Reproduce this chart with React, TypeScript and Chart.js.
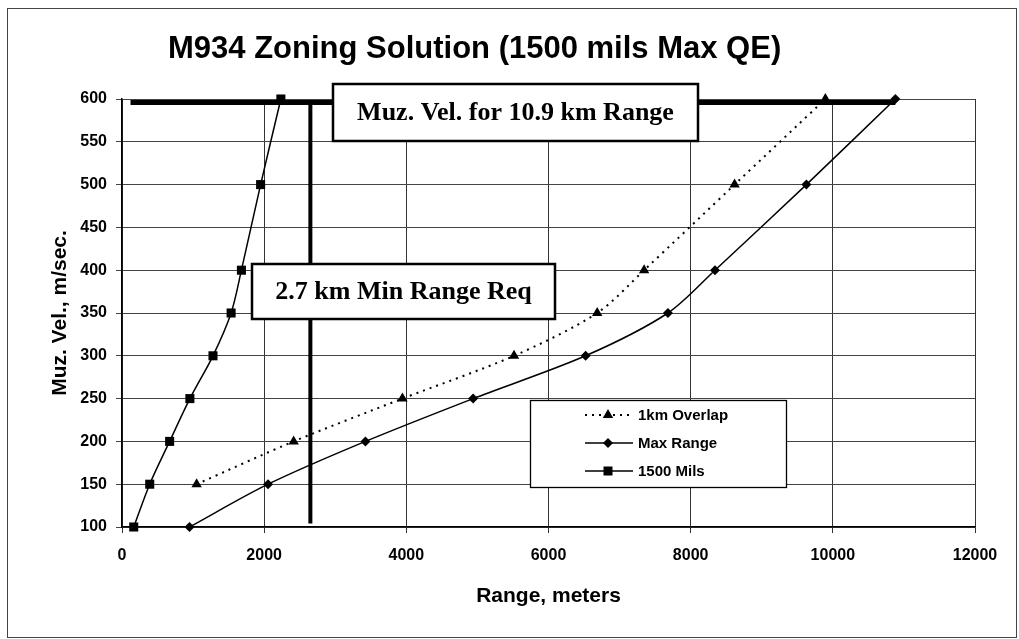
import React, { useEffect, useRef } from 'react';
import { Chart, registerables } from 'chart.js';

Chart.register(...registerables);

// ---- data ----
const velocities1500 = [100, 150, 200, 250, 300, 350, 400, 500, 600];
const ranges1500 = [165, 390, 670, 955, 1280, 1535, 1680, 1950, 2235];

const velocitiesOverlap = [150, 200, 250, 300, 350, 400, 500, 600];
const rangesOverlap = [1050, 2415, 3945, 5515, 6685, 7345, 8618, 9895];

const velocitiesMax = [100, 150, 200, 250, 300, 350, 400, 500, 600];
const rangesMax = [950, 2055, 3425, 4940, 6522, 7680, 8342, 9628, 10880];

// reference lines
const muzVelLineX = [120, 10880];
const muzVelLineY = [596, 596];
const minRangeLineX = [2650, 2650];
const minRangeLineY = [104, 596];

const seriesNames = ['1km Overlap', 'Max Range', '1500 Mils'];
const chartTitle = 'M934 Zoning Solution (1500 mils Max QE)';
const xAxisTitle = 'Range, meters';
const yAxisTitle = 'Muz. Vel., m/sec.';
const annotationTexts = ['Muz. Vel. for 10.9 km Range', '2.7 km Min Range Req'];

const xMin = 0, xMax = 12000, xStep = 2000;
const yMin = 100, yMax = 600, yStep = 50;

const toPoints = (xs: number[], ys: number[]) => xs.map((x, i) => ({ x, y: ys[i] }));

const SANS = 'Arial, "Liberation Sans", sans-serif';
const SERIF = '"Times New Roman", "Liberation Serif", serif';

function drawMarker(ctx: CanvasRenderingContext2D, style: string, x: number, y: number) {
  ctx.save();
  ctx.fillStyle = '#000';
  ctx.beginPath();
  if (style === 'triangle') {
    const r = 6;
    ctx.moveTo(x, y - r);
    ctx.lineTo(x + r * 0.866, y + r * 0.5);
    ctx.lineTo(x - r * 0.866, y + r * 0.5);
    ctx.closePath();
  } else if (style === 'rectRot') {
    const r = 5;
    ctx.moveTo(x, y - r);
    ctx.lineTo(x + r, y);
    ctx.lineTo(x, y + r);
    ctx.lineTo(x - r, y);
    ctx.closePath();
  } else {
    ctx.rect(x - 4.5, y - 4.5, 9, 9);
  }
  ctx.fill();
  ctx.restore();
}

const overlayPlugin = {
  id: 'overlay',
  beforeDraw(chart: any) {
    const ctx = chart.ctx;
    ctx.save();
    ctx.fillStyle = '#fff';
    ctx.fillRect(0, 0, chart.width, chart.height);
    ctx.restore();
  },
  afterDatasetsDraw(chart: any) {
    const ctx: CanvasRenderingContext2D = chart.ctx;
    ctx.save();
    // annotation boxes
    const boxes = [
      { x: 333, y: 84, w: 365, h: 57, text: annotationTexts[0] },
      { x: 252, y: 264, w: 303, h: 55, text: annotationTexts[1] },
    ];
    boxes.forEach((b) => {
      ctx.fillStyle = '#fff';
      ctx.fillRect(b.x, b.y, b.w, b.h);
      ctx.strokeStyle = '#000';
      ctx.lineWidth = 2.5;
      ctx.setLineDash([]);
      ctx.strokeRect(b.x, b.y, b.w, b.h);
      ctx.fillStyle = '#000';
      ctx.font = `bold 26px ${SERIF}`;
      ctx.textAlign = 'center';
      ctx.textBaseline = 'middle';
      ctx.fillText(b.text, b.x + b.w / 2, b.y + b.h / 2 + 1);
    });

    // legend
    const lx = 530.5, ly = 400.5, lw = 256, lh = 87;
    ctx.fillStyle = '#fff';
    ctx.fillRect(lx, ly, lw, lh);
    ctx.strokeStyle = '#000';
    ctx.lineWidth = 1.3;
    ctx.strokeRect(lx, ly, lw, lh);
    const rowsY = [415, 443, 471];
    chart.data.datasets.slice(0, 3).forEach((ds: any, i: number) => {
      const y = rowsY[i];
      ctx.save();
      ctx.strokeStyle = '#000';
      ctx.lineWidth = ds.borderWidth;
      ctx.setLineDash(ds.borderDash || []);
      ctx.beginPath();
      ctx.moveTo(585, y);
      ctx.lineTo(633, y);
      ctx.stroke();
      ctx.restore();
      drawMarker(ctx, ds.pointStyle, 608, y);
      ctx.fillStyle = '#000';
      ctx.font = `bold 15px ${SANS}`;
      ctx.textAlign = 'left';
      ctx.textBaseline = 'middle';
      ctx.fillText(ds.label, 638, y + 1);
    });
    ctx.restore();
  },
  afterDraw(chart: any) {
    const ctx: CanvasRenderingContext2D = chart.ctx;
    const area = chart.chartArea;
    ctx.save();
    ctx.fillStyle = '#000';
    // title
    ctx.font = `bold 31px ${SANS}`;
    ctx.textAlign = 'left';
    ctx.textBaseline = 'alphabetic';
    ctx.fillText(chartTitle, 168, 58);
    // x axis title
    ctx.font = `bold 21px ${SANS}`;
    ctx.textAlign = 'center';
    ctx.textBaseline = 'alphabetic';
    ctx.fillText(xAxisTitle, (area.left + area.right) / 2, 602);
    // y axis title
    ctx.save();
    ctx.translate(66, (area.top + area.bottom) / 2);
    ctx.rotate(-Math.PI / 2);
    ctx.textAlign = 'center';
    ctx.textBaseline = 'alphabetic';
    ctx.fillText(yAxisTitle, 0, 0);
    ctx.restore();
    // frame
    ctx.strokeStyle = '#444';
    ctx.lineWidth = 1;
    ctx.strokeRect(7.5, 8.5, 1009, 629);
    ctx.restore();
  },
};

export default function App() {
  const canvasRef = useRef<HTMLCanvasElement | null>(null);

  useEffect(() => {
    if (!canvasRef.current) return;
    const black = '#000';
    const chart = new Chart(canvasRef.current, {
      type: 'line',
      data: {
        datasets: [
          {
            label: seriesNames[0],
            data: toPoints(rangesOverlap, velocitiesOverlap),
            borderColor: black,
            backgroundColor: black,
            borderWidth: 2,
            borderDash: [2, 5],
            pointStyle: 'triangle',
            pointRadius: 6,
            pointBackgroundColor: black,
            pointBorderColor: black,
            pointBorderWidth: 0,
            tension: 0.3,
            fill: false,
            clip: false,
          },
          {
            label: seriesNames[1],
            data: toPoints(rangesMax, velocitiesMax),
            borderColor: black,
            backgroundColor: black,
            borderWidth: 1.5,
            pointStyle: 'rectRot',
            pointRadius: 5,
            pointBackgroundColor: black,
            pointBorderColor: black,
            pointBorderWidth: 0,
            tension: 0.3,
            fill: false,
            clip: false,
          },
          {
            label: seriesNames[2],
            data: toPoints(ranges1500, velocities1500),
            borderColor: black,
            backgroundColor: black,
            borderWidth: 1.5,
            pointStyle: 'rect',
            pointRadius: 6.4,
            pointBackgroundColor: black,
            pointBorderColor: black,
            pointBorderWidth: 0,
            tension: 0.3,
            fill: false,
            clip: false,
          },
          {
            label: 'muzvel',
            data: toPoints(muzVelLineX, muzVelLineY),
            borderColor: black,
            borderWidth: 5,
            pointRadius: 0,
            tension: 0,
            fill: false,
            clip: false,
          },
          {
            label: 'minrange',
            data: toPoints(minRangeLineX, minRangeLineY),
            borderColor: black,
            borderWidth: 4,
            pointRadius: 0,
            tension: 0,
            fill: false,
            clip: false,
          },
        ],
      },
      options: {
        animation: false,
        responsive: false,
        maintainAspectRatio: false,
        layout: { padding: { top: 99, right: 44, left: 0, bottom: 0 } },
        plugins: {
          legend: { display: false },
          title: { display: false },
          tooltip: { enabled: false },
        },
        scales: {
          x: {
            type: 'linear',
            min: xMin,
            max: xMax,
            ticks: {
              stepSize: xStep,
              color: '#000',
              font: { family: SANS, size: 16, weight: 'bold' },
              padding: 13,
              maxRotation: 0,
              callback: (v: any) => String(v),
            },
            grid: { color: '#333', lineWidth: 1, tickLength: 6 },
            border: { color: '#000', width: 1.5 },
            afterFit: (s: any) => {
              s.height = 112;
            },
          },
          y: {
            type: 'linear',
            min: yMin,
            max: yMax,
            ticks: {
              stepSize: yStep,
              color: '#000',
              font: { family: SANS, size: 16, weight: 'bold' },
              padding: 9,
              callback: (v: any) => String(v),
            },
            grid: { color: '#444', lineWidth: 1, tickLength: 6 },
            border: { color: '#000', width: 1.5 },
            afterFit: (s: any) => {
              s.width = 122;
            },
          },
        },
      } as any,
      plugins: [overlayPlugin],
    });
    return () => chart.destroy();
  }, []);

  return (
    <div style={{ position: 'absolute', left: 0, top: 0, width: 1019, height: 639, background: '#fff' }}>
      <canvas ref={canvasRef} width={1019} height={639} style={{ display: 'block' }} />
    </div>
  );
}
